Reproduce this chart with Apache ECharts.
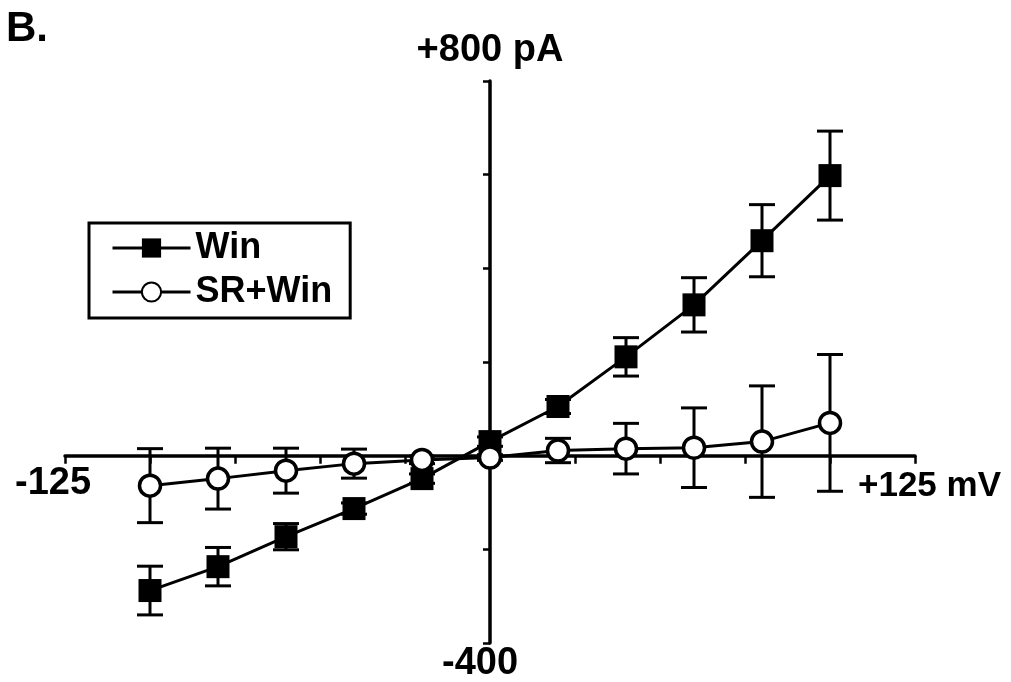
<!DOCTYPE html>
<html>
<head>
<meta charset="utf-8">
<title>I-V relation: Win vs SR+Win</title>
<script src="https://cdn.jsdelivr.net/npm/echarts@6/dist/echarts.min.js"></script>
<style>
  html, body { margin: 0; padding: 0; background: #fff; }
  #chart { width: 1011px; height: 682px; }
</style>
</head>
<body>
<div id="chart"></div>
<script>
// Holding potentials (mV)
const voltages = [-100, -80, -60, -40, -20, 0, 20, 40, 60, 80, 100];

// Mean current (pA) and SEM for each condition
const winCurrent   = [-288, -237, -173, -113, -49, 30, 105, 211, 322, 459, 598];
const winSem       = [52, 41, 28, 12, 10, 10, 15, 41, 58, 77, 95];
const srWinCurrent = [-64, -49, -32, -17, -9, -4, 11, 15, 17, 30, 70];
const srWinSem     = [79, 65, 48, 31, 8, 6, 26, 54, 85, 119, 146];

// Series names
const seriesNames = ['Win', 'SR+Win'];

// Axis ranges and end labels
const xRange = [-125, 125];
const yRange = [-400, 800];
const xEndLabels = ['-125', '+125 mV'];
const yEndLabels = ['-400', '+800 pA'];
const panelLabel = 'B.';

const FONT = '"Liberation Sans", Arial, Helvetica, sans-serif';
const chart = echarts.init(document.getElementById('chart'), null, { renderer: 'canvas' });

function pairs(values) {
  return voltages.map((v, i) => [v, values[i]]);
}
function errorData(values, sem) {
  return voltages.map((v, i) => [v, values[i], sem[i]]);
}

// Vertical SEM bar with flat caps at both ends
function renderErrorBar(params, api) {
  const x = api.value(0), y = api.value(1), e = api.value(2);
  const top = api.coord([x, y + e]);
  const bot = api.coord([x, y - e]);
  const half = 13;
  const style = { stroke: '#000', lineWidth: 3, fill: null };
  return {
    type: 'group',
    children: [
      { type: 'line', shape: { x1: top[0], y1: top[1], x2: bot[0], y2: bot[1] }, style },
      { type: 'line', shape: { x1: top[0] - half, y1: top[1], x2: top[0] + half, y2: top[1] }, style },
      { type: 'line', shape: { x1: bot[0] - half, y1: bot[1], x2: bot[0] + half, y2: bot[1] }, style }
    ]
  };
}

chart.setOption({
  animation: false,
  backgroundColor: '#fff',
  grid: { left: 65, right: 96, top: 81, bottom: 39, containLabel: false, outerBoundsMode: 'none' },
  legend: {
    data: seriesNames,
    orient: 'vertical',
    left: 89,
    top: 223,
    padding: [6, 18, 7, 22],
    itemWidth: 78,
    itemHeight: 24,
    itemGap: 6,
    selectedMode: false,
    backgroundColor: '#fff',
    borderColor: '#000',
    borderWidth: 3,
    borderRadius: 0,
    lineStyle: { width: 3 },
    textStyle: { fontFamily: FONT, fontSize: 36, fontWeight: 'bold', color: '#000', lineHeight: 38 }
  },
  xAxis: {
    type: 'value',
    min: xRange[0],
    max: xRange[1],
    interval: 25,
    axisLine: { onZero: true, lineStyle: { color: '#000', width: 3.5 } },
    axisTick: { show: true, inside: false, length: 8, lineStyle: { color: '#000', width: 2.5 } },
    axisLabel: { show: false },
    splitLine: { show: false }
  },
  yAxis: {
    type: 'value',
    min: yRange[0],
    max: yRange[1],
    interval: 200,
    axisLine: { show: true, onZero: true, lineStyle: { color: '#000', width: 3.5 } },
    axisTick: { show: true, inside: false, length: 7, lineStyle: { color: '#000', width: 2.5 } },
    axisLabel: { show: false },
    splitLine: { show: false }
  },
  series: [
    {
      name: 'Win SEM',
      type: 'custom',
      z: 2,
      silent: true,
      renderItem: renderErrorBar,
      encode: { x: 0, y: 1 },
      data: errorData(winCurrent, winSem)
    },
    {
      name: 'SR+Win SEM',
      type: 'custom',
      z: 2,
      silent: true,
      renderItem: renderErrorBar,
      encode: { x: 0, y: 1 },
      data: errorData(srWinCurrent, srWinSem)
    },
    {
      name: seriesNames[0],
      type: 'line',
      z: 3,
      data: pairs(winCurrent),
      symbol: 'rect',
      symbolSize: 23,
      lineStyle: { color: '#000', width: 3 },
      itemStyle: { color: '#000', borderColor: '#000', borderWidth: 0 }
    },
    {
      name: seriesNames[1],
      type: 'line',
      z: 4,
      data: pairs(srWinCurrent),
      symbol: 'circle',
      symbolSize: 21,
      lineStyle: { color: '#000', width: 3 },
      itemStyle: { color: '#fff', borderColor: '#000', borderWidth: 3.5 }
    }
  ]
});

// Axis end labels and panel letter, placed relative to the axis ends
const at = (x, y) => chart.convertToPixel({ gridIndex: 0 }, [x, y]);
const [xLeft, yZero] = at(xRange[0], 0);
const [xRight] = at(xRange[1], 0);
const [xZero, yTop] = at(0, yRange[1]);
const [, yBottom] = at(0, yRange[0]);

function label(text, x, y, size, align) {
  return {
    type: 'text', x, y, silent: true,
    style: {
      text, fill: '#000', fontFamily: FONT, fontSize: size, fontWeight: 'bold',
      align: align || 'center', verticalAlign: 'middle'
    }
  };
}

chart.setOption({
  graphic: [
    label(panelLabel, 6, 29, 42, 'left'),
    label(xEndLabels[0], xLeft - 12, yZero + 28, 38),
    label(xEndLabels[1], xRight - 57, yZero + 31, 35, 'left'),
    label(yEndLabels[1], xZero, yTop - 30, 38),
    label(yEndLabels[0], xZero - 10, yBottom + 21, 38)
  ]
});
</script>
</body>
</html>
